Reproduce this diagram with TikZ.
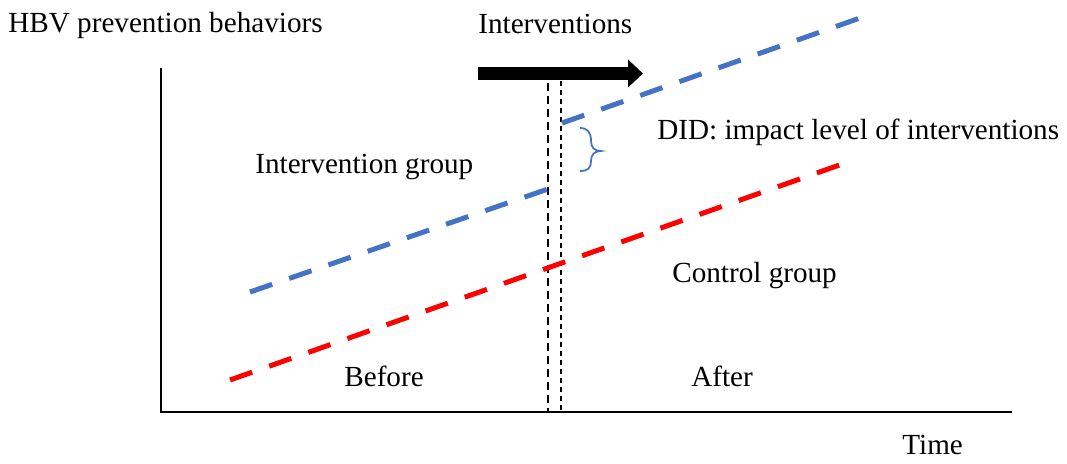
\documentclass[tikz,border=0pt]{standalone}
\usepackage{fontspec}
\setmainfont{Liberation Serif}
\usepackage{xcolor}
\usetikzlibrary{arrows.meta}
\definecolor{grpblue}{RGB}{68,114,196}

\begin{document}
\begin{tikzpicture}[x=0.02cm,y=-0.02cm,
	lbl/.style={anchor=base west,inner sep=0pt,font=\fontsize{16.6}{20}\selectfont},
	grpline/.style={line width=2.85pt,dash pattern=on 0.47cm off 0.36cm}]
			\useasboundingbox (0,0) rectangle (1067,463);
			% axes
			\coordinate (ytop) at (161,68);
			\coordinate (orig) at (161,412);
			\coordinate (xend) at (1012,412);
			\draw[line width=1.2pt] (ytop) -- (orig) -- (xend);
			% start of interventions
			\coordinate (tatop) at (548,83);
			\coordinate (tabot) at (548,412);
			\coordinate (tbtop) at (561,81);
			\coordinate (tbbot) at (561,412);
			\draw[line width=1.1pt,dash pattern=on 0.16cm off 0.1cm] (tatop) -- (tabot);
			\draw[line width=0.8pt,dash pattern=on 0.1cm off 0.08cm] (tbtop) -- (tbbot);
			\coordinate (arrs) at (478,73.5);
			\coordinate (arre) at (643,73.5);
			\draw[line width=0.26cm,-{Triangle[length=0.3cm,width=0.54cm]}] (arrs) -- (arre);
			% groups
			\coordinate (ib1) at (250,292);
			\coordinate (ib2) at (548,189);
			\coordinate (ia1) at (562,123);
			\coordinate (ia2) at (860,18);
			\coordinate (c1) at (230,380);
			\coordinate (c2) at (848,162);
			\draw[grpline,grpblue] (ib1) -- (ib2);
			\draw[grpline,grpblue] (ia1) -- (ia2);
			\draw[grpline,red] (c1) -- (c2);
			% DID brace
			\draw[grpblue,line width=1pt] (580,128) .. controls (588,128) and (591,133) .. (591,141)
				.. controls (591,147) and (594,151) .. (601,151)
				.. controls (594,151) and (591,155) .. (591,161)
				.. controls (591,168) and (588,171) .. (580,171);
			% labels
			\node[lbl] (ylab) at (8,32) {HBV prevention behaviors};
			\node[lbl] (intv) at (478,33) {Interventions};
			\node[lbl] (did) at (657,139) {DID: impact level of interventions};
			\node[lbl] (igrp) at (255,173) {Intervention group};
			\node[lbl] (cgrp) at (672,282) {Control group};
			\node[lbl] (bef) at (344,386) {Before};
			\node[lbl] (aft) at (691,386) {After};
			\node[lbl] (xlab) at (902,454) {Time};
		\end{tikzpicture}
\end{document}
